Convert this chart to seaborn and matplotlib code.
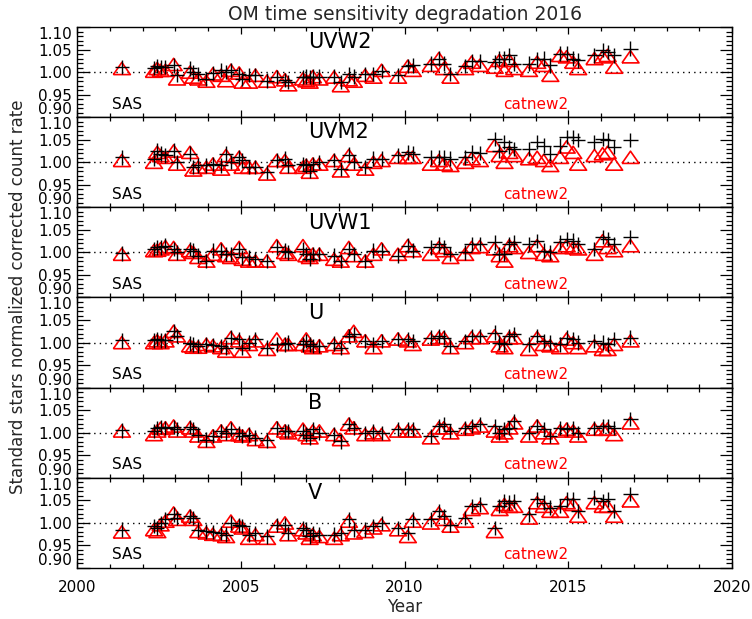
import numpy as np
import pandas as pd
import matplotlib
matplotlib.use("Agg")
import matplotlib.pyplot as plt
import seaborn as sns
from matplotlib.ticker import MultipleLocator, FixedLocator

# ---------------- data ----------------
epochs = [2001.37, 2002.35, 2002.45, 2002.55, 2002.70, 2002.95, 2003.05, 2003.45, 2003.55, 2003.70,
          2003.95, 2004.15, 2004.40, 2004.55, 2004.70, 2004.95, 2005.05, 2005.25, 2005.45, 2005.80,
          2006.10, 2006.35, 2006.45, 2006.90, 2007.00, 2007.10, 2007.20, 2007.40, 2007.85, 2008.05,
          2008.30, 2008.45, 2008.80, 2009.05, 2009.30, 2009.80,
          2010.10, 2010.25, 2010.80, 2011.05, 2011.20, 2011.40, 2011.85, 2012.05, 2012.30, 2012.75,
          2012.90, 2013.05, 2013.20, 2013.35, 2013.80, 2014.05, 2014.25, 2014.45, 2014.75, 2014.95,
          2015.15, 2015.30, 2015.80, 2016.05, 2016.20, 2016.40, 2016.90]

filters = ["UVW2", "UVM2", "UVW1", "U", "B", "V"]

sas_uvw2 = [1.011, 1.009, 1.013, 1.011, 1.011, 1.015, 0.993, 1.008, 1.000, 0.996,
            0.985, 0.998, 1.004, 1.000, 1.004, 0.996, 0.985, 0.993, 0.993, 0.981,
            0.989, 0.983, 0.978, 0.989, 0.990, 0.989, 0.990, 0.990, 0.990, 0.978,
            0.995, 0.990, 0.996, 0.996, 1.002, 0.993,
            1.013, 1.015, 1.019, 1.030, 1.019, 0.996, 1.013, 1.025, 1.025, 1.022,
            1.030, 1.030, 1.037, 1.019, 1.019, 1.028, 1.030, 1.015, 1.041, 1.041,
            1.030, 1.026, 1.037, 1.049, 1.045, 1.037, 1.052]
cat_uvw2 = [1.008, 1.002, 1.008, 1.004, 1.004, 1.017, 0.985, 1.000, 0.989, 0.985,
            0.980, 0.996, 0.993, 0.981, 1.004, 0.998, 0.978, 0.978, 0.993, 0.980,
            0.990, 0.983, 0.972, 0.985, 0.981, 0.978, 0.990, 0.985, 0.989, 0.970,
            0.983, 0.980, 0.993, 0.989, 1.004, 0.989,
            1.013, 1.004, 1.015, 1.030, 1.008, 0.989, 1.008, 1.022, 1.015, 1.011,
            1.026, 1.004, 1.026, 1.008, 1.004, 1.022, 1.015, 0.993, 1.037, 1.034,
            1.022, 1.008, 1.030, 1.034, 1.037, 1.011, 1.034]

sas_uvm2 = [1.011, 1.008, 1.026, 1.019, 1.015, 1.026, 1.000, 1.019, 0.989, 0.993,
            0.993, 0.996, 0.993, 1.019, 1.000, 1.011, 1.004, 0.990, 0.989, 0.978,
            1.004, 1.008, 0.993, 0.996, 0.993, 0.981, 0.996, 1.000, 1.005, 0.985,
            1.017, 1.000, 0.989, 1.008, 1.008, 1.015,
            1.022, 1.019, 1.011, 1.011, 1.011, 1.008, 1.011, 1.022, 1.020, 1.052,
            1.025, 1.045, 1.034, 1.030, 1.030, 1.045, 1.037, 1.019, 1.037, 1.056,
            1.056, 1.049, 1.045, 1.052, 1.049, 1.034, 1.049]
cat_uvm2 = [1.004, 1.000, 1.022, 1.015, 1.011, 1.025, 0.996, 1.022, 0.983, 0.989,
            0.989, 0.996, 0.985, 1.015, 0.996, 1.011, 0.989, 0.989, 0.989, 0.974,
            1.004, 1.004, 0.989, 0.989, 0.993, 0.978, 0.996, 0.996, 1.004, 0.981,
            1.015, 0.996, 0.985, 1.000, 1.004, 1.011,
            1.011, 1.011, 0.996, 1.004, 0.996, 0.993, 1.000, 1.008, 1.004, 1.037,
            1.015, 1.000, 1.022, 1.015, 1.008, 1.011, 1.004, 0.993, 1.011, 1.034,
            1.022, 0.996, 1.015, 1.019, 1.022, 0.996, 1.011]

sas_uvw1 = [0.998, 1.008, 1.011, 1.011, 1.015, 1.008, 1.000, 1.008, 1.004, 0.993,
            0.981, 1.004, 1.004, 0.996, 0.996, 1.008, 0.989, 0.989, 0.985, 0.981,
            1.011, 1.004, 1.000, 1.008, 0.996, 0.985, 0.996, 0.996, 0.993, 0.981,
            1.008, 0.996, 0.981, 1.004, 1.004, 0.993,
            1.015, 1.004, 1.011, 1.019, 1.011, 0.996, 1.000, 1.019, 1.019, 1.022,
            0.996, 0.996, 1.019, 1.022, 1.019, 1.025, 1.004, 1.000, 1.022, 1.030,
            1.026, 1.019, 1.008, 1.034, 1.030, 1.019, 1.034]
cat_uvw1 = [0.996, 1.004, 1.005, 1.008, 1.013, 1.011, 0.996, 1.004, 1.000, 0.989,
            0.981, 0.996, 1.008, 0.993, 0.989, 1.011, 0.985, 0.981, 0.981, 0.981,
            1.015, 1.000, 0.996, 1.015, 0.993, 0.989, 0.996, 0.996, 0.985, 0.981,
            1.011, 0.993, 0.981, 0.996, 1.008, 0.996,
            1.015, 1.004, 0.996, 1.011, 1.004, 0.989, 0.996, 1.011, 1.013, 1.008,
            0.993, 0.981, 1.015, 1.011, 1.000, 1.015, 0.996, 0.993, 1.011, 1.015,
            1.011, 1.008, 0.996, 1.026, 1.011, 1.004, 1.015]

sas_u = [1.005, 1.005, 1.008, 1.005, 1.005, 1.025, 1.015, 0.998, 0.996, 0.993,
         0.996, 0.995, 0.993, 0.989, 1.011, 1.008, 0.989, 1.000, 1.008, 0.989,
         0.996, 0.996, 1.000, 0.996, 1.004, 0.996, 0.993, 0.993, 0.998, 0.989,
         1.015, 1.019, 1.004, 0.996, 1.004, 1.008,
         1.008, 1.004, 1.011, 1.015, 1.011, 0.993, 1.004, 1.015, 1.015, 1.022,
         1.000, 0.996, 1.015, 1.019, 0.996, 1.015, 1.004, 1.000, 0.996, 1.011,
         1.008, 1.000, 1.004, 1.000, 0.996, 1.008, 1.011]
cat_u = [1.000, 1.000, 1.004, 1.000, 1.004, 1.025, 1.015, 0.993, 0.990, 0.990,
         0.996, 0.993, 0.989, 0.981, 1.011, 1.004, 0.981, 0.996, 1.004, 0.985,
         1.008, 0.996, 0.996, 0.996, 1.008, 0.993, 0.989, 0.993, 0.996, 0.989,
         1.015, 1.025, 1.004, 0.989, 1.004, 1.008,
         1.004, 0.996, 1.008, 1.011, 1.011, 0.989, 1.000, 1.011, 1.011, 1.015,
         0.993, 0.989, 1.011, 1.011, 0.985, 1.011, 0.996, 0.993, 0.989, 1.008,
         1.000, 0.989, 0.993, 0.985, 0.985, 0.996, 1.004]

sas_b = [1.005, 1.004, 1.011, 1.013, 1.011, 1.013, 1.008, 1.013, 1.008, 0.996,
         0.985, 0.993, 1.004, 1.000, 1.008, 1.000, 0.993, 0.996, 0.989, 0.983,
         1.011, 1.004, 1.004, 1.004, 0.996, 0.989, 1.008, 1.000, 0.996, 0.981,
         1.019, 1.011, 1.000, 1.004, 1.000, 1.008,
         1.008, 1.008, 0.993, 1.015, 1.019, 1.004, 1.011, 1.015, 1.019, 1.015,
         1.000, 1.008, 1.011, 1.026, 1.000, 1.015, 1.008, 0.993, 1.011, 1.008,
         1.011, 1.000, 1.011, 1.015, 1.015, 1.011, 1.030]
cat_b = [1.004, 0.996, 1.004, 1.010, 1.011, 1.015, 1.004, 1.011, 1.004, 0.993,
         0.981, 0.993, 1.004, 0.996, 1.011, 0.996, 0.993, 0.996, 0.985, 0.981,
         1.011, 1.004, 1.000, 1.008, 0.996, 0.989, 1.004, 1.004, 0.996, 0.985,
         1.019, 1.011, 0.996, 1.000, 0.996, 1.004,
         1.004, 1.004, 0.989, 1.011, 1.011, 1.000, 1.008, 1.011, 1.015, 1.004,
         0.993, 1.000, 1.011, 1.022, 0.993, 1.015, 1.000, 0.989, 1.004, 1.008,
         1.004, 0.993, 1.008, 1.008, 1.008, 0.996, 1.022]

sas_v = [0.985, 0.993, 0.989, 1.000, 1.008, 1.019, 1.011, 1.015, 1.011, 0.985,
         0.981, 0.980, 0.978, 0.974, 1.000, 0.996, 0.993, 0.974, 0.978, 0.970,
         0.996, 0.996, 0.978, 0.989, 0.985, 0.970, 0.978, 0.974, 0.974, 0.978,
         1.008, 0.985, 0.985, 0.993, 1.000, 0.989,
         0.978, 1.008, 1.008, 1.026, 1.015, 0.996, 1.011, 1.037, 1.041, 0.989,
         1.037, 1.049, 1.045, 1.049, 1.019, 1.052, 1.045, 1.034, 1.037, 1.052,
         1.052, 1.026, 1.056, 1.049, 1.052, 1.026, 1.064]
cat_v = [0.980, 0.985, 0.981, 0.996, 1.004, 1.022, 1.008, 1.015, 1.008, 0.981,
         0.978, 0.975, 0.974, 0.970, 1.004, 0.993, 0.989, 0.966, 0.974, 0.966,
         0.993, 1.000, 0.974, 0.985, 0.978, 0.966, 0.974, 0.970, 0.966, 0.974,
         1.004, 0.978, 0.981, 0.989, 0.996, 0.985,
         0.970, 1.004, 1.000, 1.022, 1.008, 0.993, 1.004, 1.030, 1.034, 0.981,
         1.030, 1.041, 1.037, 1.037, 1.011, 1.045, 1.037, 1.026, 1.026, 1.045,
         1.041, 1.015, 1.045, 1.037, 1.037, 1.015, 1.049]

sas_all = [sas_uvw2, sas_uvm2, sas_uvw1, sas_u, sas_b, sas_v]
cat_all = [cat_uvw2, cat_uvm2, cat_uvw1, cat_u, cat_b, cat_v]

ytick_vals = [0.90, 0.95, 1.00, 1.05, 1.10]
ytick_labels = ["0.90", "0.95", "1.00", "1.05", "1.10"]
xtick_vals = [2000, 2005, 2010, 2015, 2020]

x_err = 0.22
y_err = 0.016

# ---------------- plot ----------------
sns.set_style("ticks")
plt.rcParams["font.family"] = ["DejaVu Sans"]

W, H = 752, 619
fig, axes = plt.subplots(6, 1, figsize=(W / 100, H / 100), dpi=100, sharex=True)
fig.subplots_adjust(left=77 / W, right=732 / W, top=1 - 27 / H, bottom=1 - 568 / H, hspace=0)

tri = [(-1.0, -0.72), (1.0, -0.72), (0.0, 0.72), (-1.0, -0.72)]

for ax, name, sas, cat in zip(axes, filters, sas_all, cat_all):
    df = pd.DataFrame({"year": epochs, "sas": sas, "cat": cat})
    ax.axhline(1.0, color="black", lw=1.0, ls=(0, (1, 3)), zorder=1)
    sns.scatterplot(data=df, x="year", y="cat", ax=ax, marker=tri, s=150,
                    facecolors="none", edgecolors="red", linewidths=1.2, zorder=2, legend=False)
    ax.errorbar(df["year"], df["sas"], xerr=x_err, yerr=y_err, fmt="none",
                ecolor="black", elinewidth=1.0, capsize=0, zorder=3)
    ax.set_xlim(2000, 2020)
    ax.set_ylim(0.90, 1.10)
    ax.yaxis.set_major_locator(FixedLocator(ytick_vals))
    ax.set_yticklabels(ytick_labels)
    ax.yaxis.set_minor_locator(MultipleLocator(0.01))
    ax.xaxis.set_major_locator(FixedLocator(xtick_vals))
    ax.xaxis.set_minor_locator(MultipleLocator(1))
    ax.tick_params(axis="both", which="both", direction="in", top=True, right=True,
                   labelsize=11, colors="black", width=0.9)
    ax.tick_params(axis="y", which="major", length=9)
    ax.tick_params(axis="y", which="minor", length=4.5)
    ax.tick_params(axis="x", which="major", length=5)
    ax.tick_params(axis="x", which="minor", length=3)
    for sp in ax.spines.values():
        sp.set_linewidth(1.0)
        sp.set_color("black")
    ax.set_xlabel("")
    ax.set_ylabel("")
    ax.text(0.353, 0.83, name, transform=ax.transAxes, fontsize=15, ha="left", va="center",
            color="black")
    ax.text(0.053, 0.145, "SAS", transform=ax.transAxes, fontsize=11, ha="left",
            va="center", color="black")
    ax.text(0.65, 0.145, "catnew2", transform=ax.transAxes, fontsize=11, ha="left",
            va="center", color="red")
    labs = ax.get_yticklabels()
    labs[0].set_va("bottom")
    labs[-1].set_va("top")

axes[-1].set_xticklabels([str(v) for v in xtick_vals])
axes[-1].tick_params(axis="x", pad=9)
for ax in axes[:-1]:
    ax.tick_params(axis="x", labelbottom=False)

fig.text((77 + 732) / 2 / W, 1 - 14 / H, "OM time sensitivity degradation 2016",
         ha="center", va="center", fontsize=13.5)
fig.text((77 + 732) / 2 / W, 1 - 607 / H, "Year", ha="center", va="center", fontsize=12)
fig.text(18 / W, 1 - 297 / H, "Standard stars normalized corrected count rate",
         ha="center", va="center", rotation=90, fontsize=12)

fig.savefig("out.png", dpi=100)
